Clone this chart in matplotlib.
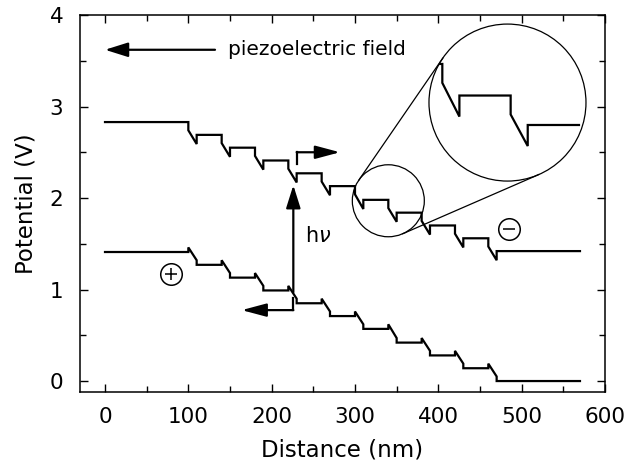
import numpy as np
import matplotlib.pyplot as plt
from matplotlib.patches import Ellipse

# quantum well stack: flat contacts, ten wells with the built-in field
barrier_start = [100, 140, 180, 220, 260, 300, 340, 380, 420, 460]
barrier_end = [110, 150, 190, 230, 270, 310, 350, 390, 430, 470]
distance_end = 570

upper_levels = [2.83, 2.69, 2.55, 2.41, 2.27, 2.13, 1.98, 1.84, 1.70, 1.56, 1.42]
lower_levels = [1.41, 1.27, 1.13, 0.99, 0.85, 0.71, 0.57, 0.42, 0.28, 0.14, 0.00]

# offsets at the well edges (V): jump at entry, and level before the exit jump
upper_edge = (-0.09, -0.10)
lower_edge = (0.05, 0.05)

x_ticks = [0, 100, 200, 300, 400, 500, 600]
y_ticks = [0, 1, 2, 3, 4]


def band_profile(levels, starts, ends, x0, x1, edge):
    x, y = [x0], [levels[0]]
    for i, (s, e) in enumerate(zip(starts, ends)):
        x += [s, s, e, e]
        y += [levels[i], levels[i] + edge[0], levels[i + 1] + edge[1], levels[i + 1]]
    x.append(x1)
    y.append(levels[-1])
    return np.array(x, float), np.array(y, float)


fig = plt.figure(figsize=(6.29, 4.73), dpi=100)
ax = fig.add_axes([0.1272, 0.1712, 0.8346, 0.7971])
ax.set_xlim(-30, 600)
ax.set_ylim(-0.12, 4)

# pixels per data unit, used to keep circles round
sx = 0.8346 * 629 / 630
sy = 0.7971 * 473 / 4.12

ux, uy = band_profile(upper_levels, barrier_start, barrier_end, 0, distance_end, upper_edge)
lx, ly = band_profile(lower_levels, barrier_start, barrier_end, 0, distance_end, lower_edge)
ax.plot(ux, uy, color='k', lw=1.6, solid_joinstyle='miter')
ax.plot(lx, ly, color='k', lw=1.6, solid_joinstyle='miter')

head = '-|>,head_length=0.7,head_width=0.22'
arrow = dict(arrowstyle=head, mutation_scale=20, lw=1.6, color='k',
             shrinkA=0, shrinkB=0)

# field direction
ax.annotate('', xy=(0, 3.62), xytext=(132, 3.62), arrowprops=arrow)
ax.text(148, 3.62, 'piezoelectric field', fontsize=14.5, va='center')

# photon absorption
ax.annotate('', xy=(226, 2.14), xytext=(226, 0.97), arrowprops=arrow)
ax.text(240, 1.58, r'h$\nu$', fontsize=15, va='center')

# electron drifts right, hole drifts left
ax.plot([230, 230], [2.37, 2.50], color='k', lw=1.6)
ax.annotate('', xy=(282, 2.50), xytext=(230, 2.50),
            arrowprops=dict(arrow, arrowstyle='-|>,head_length=0.75,head_width=0.2'))
ax.plot([226, 226], [0.91, 0.775], color='k', lw=1.6)
ax.annotate('', xy=(164, 0.775), xytext=(226, 0.775),
            arrowprops=dict(arrow, arrowstyle='-|>,head_length=0.75,head_width=0.2'))

# charge symbols
for cx, cy, sign in [(79, 1.166, '+'), (485, 1.66, '_')]:
    ax.plot(cx, cy, 'o', ms=15.5, mfc='white', mec='k', mew=1.1)
    ax.plot(cx, cy, sign, ms=9, mec='k', mew=1.1)

# magnifier: small circle on the stack and the enlarged view
small_c, small_r = (340, 1.97), 36
big_c, big_r = (483, 3.043), 78.5
small = Ellipse(small_c, 2 * small_r / sx, 2 * small_r / sy, fill=False, lw=0.9, color='k')
big = Ellipse(big_c, 2 * big_r / sx, 2 * big_r / sy, fill=False, lw=0.9, color='k')
ax.add_patch(small)
ax.add_patch(big)

p1 = np.array([small_c[0] * sx, small_c[1] * sy])
p2 = np.array([big_c[0] * sx, big_c[1] * sy])
d = p2 - p1
theta = np.arctan2(d[1], d[0])
alpha = np.arccos((small_r - big_r) / np.hypot(*d))
for sgn in (1, -1):
    n = np.array([np.cos(theta + sgn * alpha), np.sin(theta + sgn * alpha)])
    a = p1 + small_r * n
    b = p2 + big_r * n
    ax.plot([a[0] / sx, b[0] / sx], [a[1] / sy, b[1] / sy], color='k', lw=0.9)

ix, iy = band_profile(upper_levels[5:8], barrier_start[5:7], barrier_end[5:7], 280, 380, upper_edge)
zoom_line, = ax.plot(486.8 + 2.05 * (ix - 340), 3.12 + 2.3 * (iy - 1.98),
                     color='k', lw=1.6, solid_joinstyle='miter')
zoom_line.set_clip_path(big)

ax.set_xticks(x_ticks)
ax.set_yticks(y_ticks)
ax.set_xticks(np.arange(-0, 601, 50), minor=True)
ax.set_yticks(np.arange(0, 4.01, 0.5), minor=True)
ax.tick_params(which='both', direction='in', top=True, right=True, labelsize=15.5)
ax.tick_params(axis='x', pad=11)
ax.tick_params(axis='y', pad=12)
ax.tick_params(which='major', length=6, width=1)
ax.tick_params(which='minor', length=4, width=1)
for s in ax.spines.values():
    s.set_linewidth(1.1)

ax.set_xlabel('Distance (nm)', fontsize=16.5, labelpad=8)
ax.set_ylabel('Potential (V)', fontsize=16.5, labelpad=9)

fig.savefig('out.png', dpi=100)
